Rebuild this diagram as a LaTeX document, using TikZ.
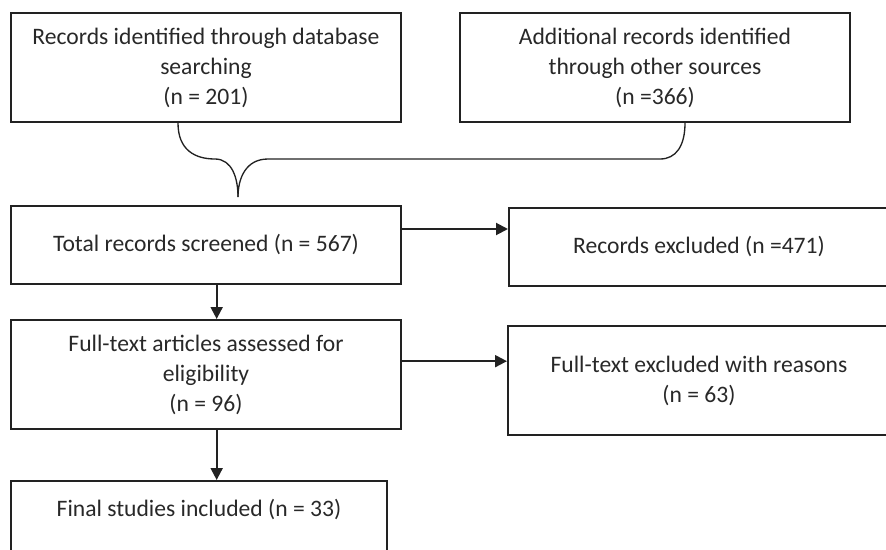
\documentclass[tikz,border=0pt]{standalone}
\usepackage{fontspec}
\setmainfont{Carlito}
\usepackage{xcolor}
\usetikzlibrary{arrows.meta}

\definecolor{lineclr}{RGB}{34,34,34}
\definecolor{textclr}{RGB}{40,40,40}

\tikzset{
  box/.style={draw=lineclr, line width=1.5, text=textclr, align=center, inner sep=0pt,
    font=\fontsize{17.7}{22.5}\selectfont},
  arr/.style={draw=lineclr, line width=1.5, -{Triangle[length=9pt,width=9pt]}},
  brace/.style={draw=lineclr, line width=1}
}

\begin{document}
\begin{tikzpicture}[x=0.75pt,y=0.75pt,yscale=-1,xscale=1]
        \useasboundingbox (0,0) rectangle (886,550);

        %Shape: Rectangle [id:rec1]
        \node [box, minimum width=292.5pt, minimum height=81.75pt] (rec1) at (206,67.5)
          {Records identified through database\\searching\\(n = 201)};
        %Shape: Rectangle [id:rec2]
        \node [box, minimum width=292.5pt, minimum height=81.75pt] (rec2) at (655,67.5)
          {Additional records identified\\through other sources\\(n =366)};
        %Shape: Rectangle [id:screened]
        \node [box, minimum width=292.5pt, minimum height=58.5pt] (screened) at (206,245)
          {Total records screened (n = 567)};
        %Shape: Rectangle [id:excl]
        \node [box, minimum width=285pt, minimum height=58.5pt] (excl) at (699,247)
          {Records excluded (n =471)};
        %Shape: Rectangle [id:fulltext]
        \node [box, minimum width=292.5pt, minimum height=81.75pt] (fulltext) at (206,374.5)
          {Full-text articles assessed for\\eligibility\\(n = 96)};
        %Shape: Rectangle [id:ftexcl]
        \node [box, minimum width=286.5pt, minimum height=81.75pt] (ftexcl) at (699,380.5)
          {Full-text excluded with reasons\\(n = 63)};
        %Shape: Rectangle [id:final]
        \node [box, anchor=north, minimum width=282pt, text height=12pt, text depth=19.5pt, inner ysep=14.25pt] (final) at (199,480)
          {Final studies included (n = 33)};

        %Shape: Brace
        \coordinate (br1) at (rec1.south -| 178,0);
        \coordinate (br2) at (rec2.south -| 685,0);
        \coordinate (tip) at (238,197);
        \draw [brace] (br1) .. controls (178,150) and (195,159) .. (215,159) .. controls (232,159) and (238,178) .. (tip);
        \draw [brace] (tip) .. controls (238,178) and (246,159) .. (268,159) -- (660,159) .. controls (676,159) and (685,146) .. (br2);

        %Straight Lines with arrows
        \coordinate (a1) at ([yshift=-12pt]screened.east);
        \draw [arr] (a1) -- (a1 -| excl.west);
        \coordinate (a2) at ([yshift=-10pt]fulltext.east);
        \draw [arr] (a2) -- (a2 -| ftexcl.west);
        \coordinate (d1) at ([xshift=8pt]screened.south);
        \draw [arr] (d1) -- (d1 |- fulltext.north);
        \coordinate (d2) at ([xshift=8pt]fulltext.south);
        \draw [arr] (d2) -- (d2 |- final.north);

\end{tikzpicture}
\end{document}
